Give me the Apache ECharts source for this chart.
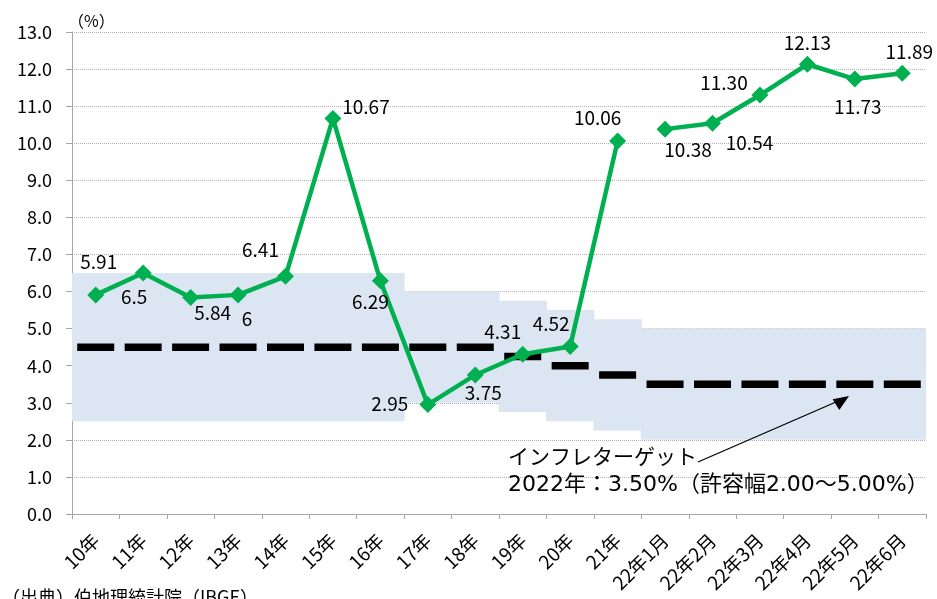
<!DOCTYPE html>
<html>
<head>
<meta charset="utf-8">
<script src="https://cdn.jsdelivr.net/npm/echarts@6/dist/echarts.min.js"></script>
<style>
html,body{margin:0;padding:0;background:#fff;}
#c{width:937px;height:599px;}
</style>
</head>
<body>
<div id="c"></div>
<script>
var categories = ['10年','11年','12年','13年','14年','15年','16年','17年','18年','19年','20年','21年','22年1月','22年2月','22年3月','22年4月','22年5月','22年6月'];
var annualValues = [5.91, 6.5, 5.84, 5.91, 6.41, 10.67, 6.29, 2.95, 3.75, 4.31, 4.52, 10.06, null, null, null, null, null, null];
var monthlyValues = [null, null, null, null, null, null, null, null, null, null, null, null, 10.38, 10.54, 11.30, 12.13, 11.73, 11.89];
var pointLabels = ['5.91','6.5','5.84','6','6.41','10.67','6.29','2.95','3.75','4.31','4.52','10.06','10.38','10.54','11.30','12.13','11.73','11.89'];
var targetValues = [4.5, 4.5, 4.5, 4.5, 4.5, 4.5, 4.5, 4.5, 4.5, 4.25, 4.0, 3.75, 3.5, 3.5, 3.5, 3.5, 3.5, 3.5];
var bandLower = [2.5, 2.5, 2.5, 2.5, 2.5, 2.5, 2.5, 3.0, 3.0, 2.75, 2.5, 2.25, 2.0, 2.0, 2.0, 2.0, 2.0, 2.0];
var bandUpper = [6.5, 6.5, 6.5, 6.5, 6.5, 6.5, 6.5, 6.0, 6.0, 5.75, 5.5, 5.25, 5.0, 5.0, 5.0, 5.0, 5.0, 5.0];
var yTicks = [0,1,2,3,4,5,6,7,8,9,10,11,12,13];

var labelOffsets = [[3,-33],[-9,24],[22,15],[9,24],[-25,-27],[33,-12],[-10,21],[-38,-1],[8,18],[-20,-22],[-19,-23],[-20,-23],[23,21],[37,20],[-36,-12],[0,-21],[3,28],[7,-21]];

var FONT = '"Noto Sans CJK JP", "Noto Sans", sans-serif';
var GREEN = '#00b050';
var SYM = 17;

function lineData(vals) {
  return vals.map(function (v, i) {
    if (v === null) return '-';
    return {
      value: v,
      label: {
        show: true,
        position: 'top',
        distance: 0,
        align: 'center',
        verticalAlign: 'middle',
        offset: [labelOffsets[i][0], labelOffsets[i][1] + SYM / 2],
        formatter: pointLabels[i],
        fontSize: 19,
        color: '#000',
        fontFamily: FONT
      }
    };
  });
}

var bandData = categories.map(function (c, i) { return [i, bandLower[i], bandUpper[i]]; });

function renderBand(params, api) {
  var idx = api.value(0);
  var lo = api.coord([idx, api.value(1)]);
  var hi = api.coord([idx, api.value(2)]);
  var w = api.size([1, 0])[0];
  var x0 = lo[0] - w / 2;
  var x1 = lo[0] + w / 2;
  var gridLeft = params.coordSys.x;
  var gridRight = params.coordSys.x + params.coordSys.width;
  var l = Math.max(gridLeft, x0 - 0.5);
  var r = Math.min(gridRight, x1 + 0.5);
  return {
    type: 'rect',
    shape: {x: l, y: hi[1], width: r - l, height: lo[1] - hi[1]},
    style: {fill: '#dce6f2'}
  };
}

var chart = echarts.init(document.getElementById('c'), null, {renderer: 'canvas'});
chart.setOption({
  animation: false,
  backgroundColor: '#fff',
  textStyle: {fontFamily: FONT},
  grid: {left: 72, right: 11, top: 32, bottom: 85, containLabel: false},
  xAxis: {
    type: 'category',
    data: categories,
    boundaryGap: true,
    axisLine: {lineStyle: {color: '#a6a6a6', width: 1}},
    axisTick: {show: true, length: 5, lineStyle: {color: '#a6a6a6'}},
    axisLabel: {rotate: 45, fontSize: 19, color: '#000', margin: 23, fontFamily: FONT, interval: 0}
  },
  yAxis: {
    type: 'value',
    min: 0, max: 13, interval: 1,
    axisLine: {show: true, lineStyle: {color: '#a6a6a6', width: 1}},
    axisTick: {show: true, length: 6, lineStyle: {color: '#a6a6a6'}},
    axisLabel: {
      fontSize: 18, color: '#000', margin: 20, fontFamily: FONT,
      formatter: function (v) { return yTicks.indexOf(v) >= 0 ? v.toFixed(1) : ''; }
    },
    splitLine: {show: true, lineStyle: {color: '#b0b0b0', type: [1, 1], width: 1}}
  },
  series: [
    {
      type: 'custom', renderItem: renderBand, data: bandData,
      encode: {x: 0, y: [1, 2]}, silent: true, z: 1
    },
    {
      type: 'scatter', data: targetValues, symbol: 'rect', symbolSize: [37, 7.5],
      itemStyle: {color: '#000', opacity: 1}, z: 3
    },
    {
      type: 'line', data: lineData(annualValues), symbol: 'diamond', symbolSize: SYM,
      lineStyle: {color: GREEN, width: 4.5}, itemStyle: {color: GREEN}, z: 5
    },
    {
      type: 'line', data: lineData(monthlyValues), symbol: 'diamond', symbolSize: SYM,
      lineStyle: {color: GREEN, width: 4.5}, itemStyle: {color: GREEN}, z: 5
    }
  ],
  graphic: [
    {type: 'text', z: 100, left: 68, top: 13, style: {text: '（%）', fontSize: 16, fill: '#000', fontFamily: FONT}},
    {type: 'text', z: 100, left: 508, top: 446, style: {text: 'インフレターゲット', fontSize: 21, fill: '#000', fontFamily: FONT}},
    {type: 'text', z: 100, left: 508, top: 474, style: {text: '2022年：3.50%（許容幅2.00～5.00%）', fontSize: 22, fill: '#000', fontFamily: '"DejaVu Sans", "Noto Sans CJK JP", sans-serif'}},
    {type: 'line', z: 100, shape: {x1: 698, y1: 462, x2: 836, y2: 402}, style: {stroke: '#000', lineWidth: 1.3}},
    {type: 'polygon', z: 100, shape: {points: [[849, 396], [839.3, 410], [832.7, 399.3]]}, style: {fill: '#000'}},
    {type: 'text', z: 100, left: 2, top: 588, style: {text: '（出典）伯地理統計院（IBGE）', fontSize: 18, fill: '#000', fontFamily: FONT}}
  ]
});
</script>
</body>
</html>
